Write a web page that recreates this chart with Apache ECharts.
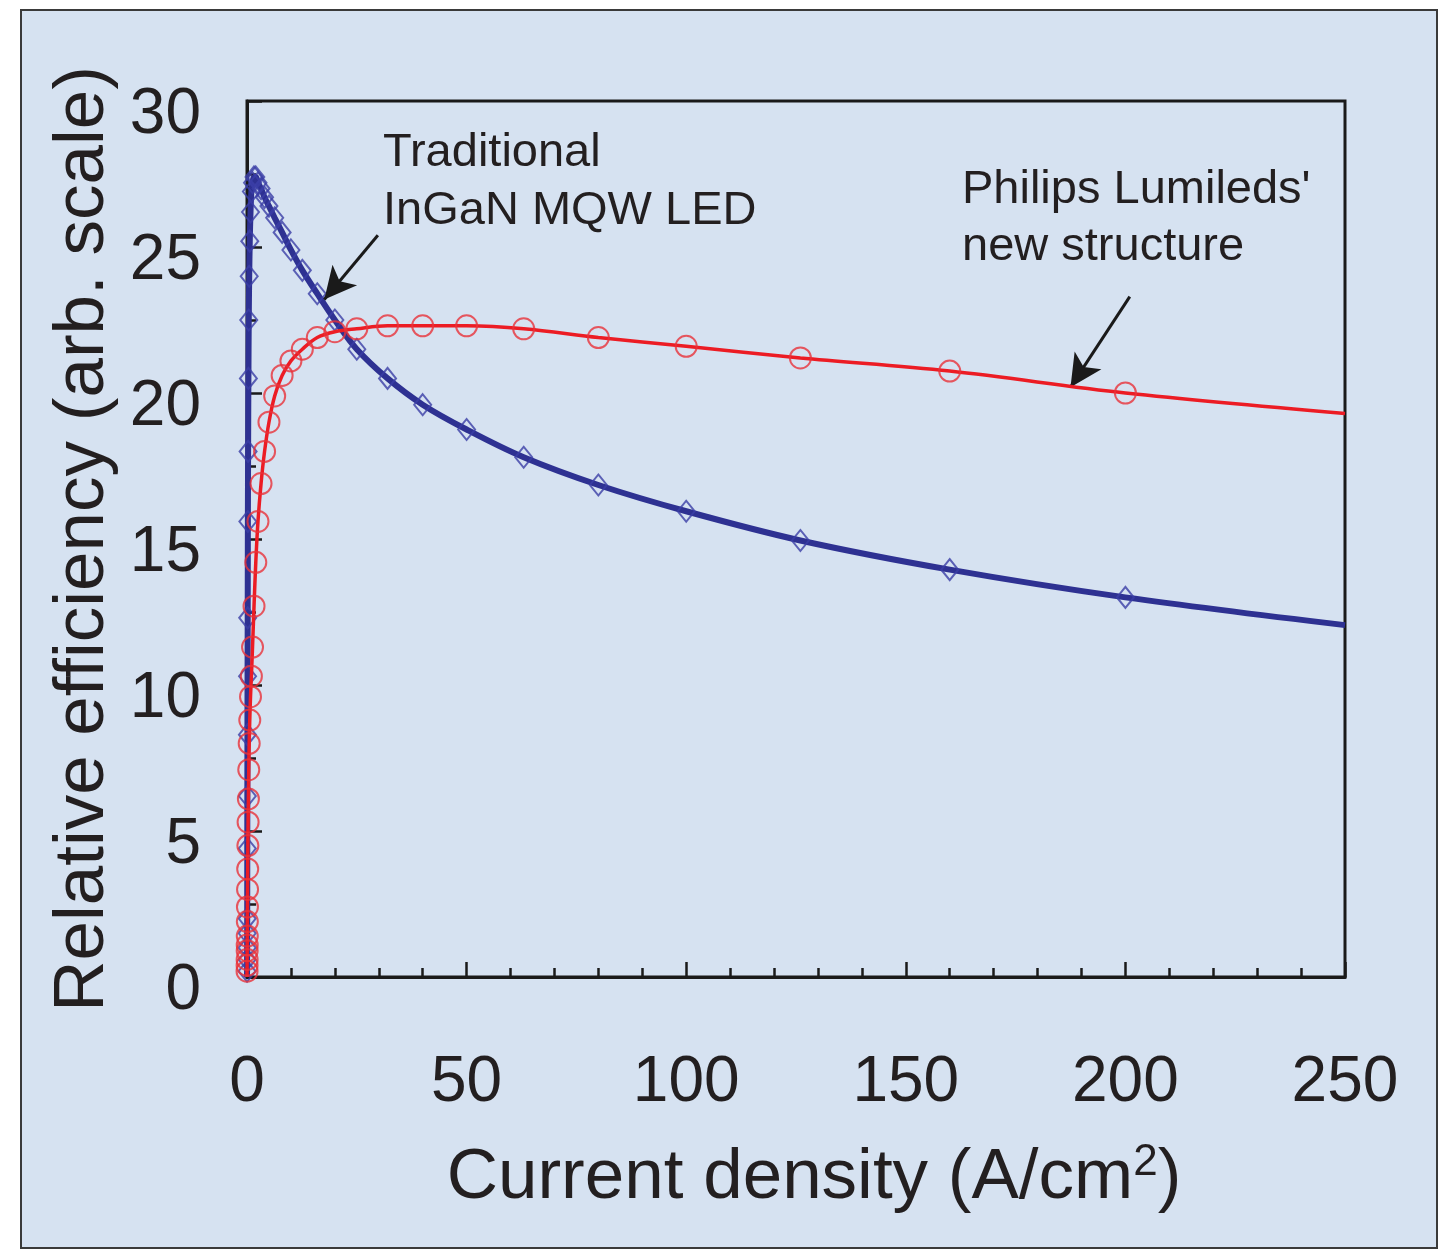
<!DOCTYPE html>
<html>
<head>
<meta charset="utf-8">
<script src="https://cdn.jsdelivr.net/npm/echarts@6/dist/echarts.min.js"></script>
<style>
html,body{margin:0;padding:0;background:#ffffff;}
#chart{width:1445px;height:1250px;}
</style>
</head>
<body>
<div id="chart"></div>
<script>
// Current density (A/cm^2) sample points, shared by both structures
const currentDensity = [0.01, 0.02, 0.03, 0.04, 0.05, 0.063, 0.08, 0.1, 0.126, 0.16, 0.2, 0.25, 0.32, 0.4, 0.5, 0.63, 0.8, 1.0, 1.26, 1.6, 2, 2.5, 3.2, 4, 5, 6.3, 8, 10, 12.6, 16, 20, 25, 32, 40, 50, 63, 80, 100, 126, 160, 200];
// Traditional InGaN MQW LED (blue diamonds)
const traditionalEff = [0.2, 0.6, 1.0, 1.5, 2.0, 4.4, 6.2, 8.3, 10.3, 12.3, 15.6, 18.0, 20.5, 22.5, 24.0, 25.2, 26.2, 26.9, 27.2, 27.4, 27.4, 27.2, 27.0, 26.7, 26.4, 26.0, 25.5, 24.9, 24.2, 23.4, 22.5, 21.5, 20.5, 19.6, 18.75, 17.8, 16.85, 15.95, 14.95, 13.95, 13.0];
// Philips Lumileds' new structure (red circles)
const lumiledsEff = [0.2, 0.4, 0.6, 0.9, 1.1, 1.4, 1.9, 2.4, 3.0, 3.7, 4.5, 5.3, 6.1, 7.1, 8.0, 8.8, 9.6, 10.3, 11.3, 12.7, 14.2, 15.6, 16.9, 18.0, 19.0, 19.9, 20.6, 21.1, 21.5, 21.9, 22.1, 22.2, 22.3, 22.3, 22.3, 22.2, 21.9, 21.6, 21.2, 20.75, 20.0];
// fitted curve end points
const fitStart = [0, 0];
const traditionalFitEnd = [250, 12.05];
const lumiledsFitEnd = [250, 19.3];
// axis ticks
const xTicks = [0, 50, 100, 150, 200, 250];
const yTicks = [0, 5, 10, 15, 20, 25, 30];
// annotations
const annTraditional = ['Traditional', 'InGaN MQW LED'];
const annLumileds = ["Philips Lumileds'", 'new structure'];
const arrowTraditional = [[29.8, 25.4], [17.6, 23.2]];
const arrowLumileds = [[201, 23.3], [187.5, 20.2]];

const FONT = '"Liberation Sans", Arial, Helvetica, sans-serif';
const TXT = '#231f20';
const BLUE = '#2e3192';
const RED = '#ec1c24';

const pts = (xs, ys) => xs.map((x, i) => [x, ys[i]]);
const bluePts = pts(currentDensity, traditionalEff);
const redPts = pts(currentDensity, lumiledsEff);

const chart = echarts.init(document.getElementById('chart'), null, {renderer: 'canvas'});
const option = {
  animation: false,
  backgroundColor: 'transparent',
  graphic: [
    {type: 'rect', z: -100, shape: {x: 21, y: 10, width: 1416, height: 1238},
     style: {fill: '#d6e2f1', stroke: '#3a3a3a', lineWidth: 2}},
    {type: 'text', z: 100, style: {x: 383, y: 153, text: annTraditional[0], font: '47px ' + FONT, fill: TXT, verticalAlign: 'middle'}},
    {type: 'text', z: 100, style: {x: 383, y: 211, text: annTraditional[1], font: '47px ' + FONT, fill: TXT, verticalAlign: 'middle'}},
    {type: 'text', z: 100, style: {x: 962, y: 190, text: annLumileds[0], font: '47px ' + FONT, fill: TXT, verticalAlign: 'middle'}},
    {type: 'text', z: 100, style: {x: 962, y: 247, text: annLumileds[1], font: '47px ' + FONT, fill: TXT, verticalAlign: 'middle'}}
  ],
  grid: {left: 247, right: 100, top: 101, bottom: 273, show: true,
         borderColor: '#1a1a1a', borderWidth: 3, backgroundColor: 'transparent'},
  xAxis: {
    type: 'value', min: xTicks[0], max: xTicks[xTicks.length - 1], interval: 50,
    name: 'Current density (A/cm{sup|2})',
    nameLocation: 'middle', nameGap: 164,
    nameTextStyle: {fontFamily: FONT, fontSize: 71, color: TXT, padding: [0, 0, 0, 36],
      rich: {sup: {fontFamily: FONT, fontSize: 44, color: TXT, verticalAlign: 'top', padding: [0, 0, 30, 0]}}},
    axisLine: {show: true, lineStyle: {color: '#1a1a1a', width: 3}},
    axisTick: {show: true, inside: true, length: 15, lineStyle: {color: '#1a1a1a', width: 2.5}},
    minorTick: {show: true, splitNumber: 5, length: 9, lineStyle: {color: '#1a1a1a', width: 2.5}},
    splitLine: {show: false},
    axisLabel: {fontFamily: FONT, fontSize: 64, color: TXT, margin: 74,
      formatter: v => xTicks.includes(v) ? String(v) : ''}
  },
  yAxis: {
    type: 'value', min: yTicks[0], max: yTicks[yTicks.length - 1], interval: 5,
    name: 'Relative efficiency (arb. scale)',
    nameLocation: 'middle', nameGap: 104,
    nameTextStyle: {fontFamily: FONT, fontSize: 71, color: TXT},
    axisLine: {show: true, lineStyle: {color: '#1a1a1a', width: 3}},
    axisTick: {show: true, inside: true, length: 15, lineStyle: {color: '#1a1a1a', width: 2.5}},
    minorTick: {show: true, splitNumber: 2, length: 9, lineStyle: {color: '#1a1a1a', width: 2.5}},
    splitLine: {show: false},
    axisLabel: {fontFamily: FONT, fontSize: 64, color: TXT, margin: 46,
      verticalAlign: 'top', lineHeight: 28,
      formatter: v => yTicks.includes(v) ? String(v) : ''}
  },
  series: [
    {
      name: 'Traditional fit', type: 'line', z: 3,
      data: [fitStart].concat(bluePts, [traditionalFitEnd]),
      smooth: 0.35, showSymbol: false, symbol: 'none',
      lineStyle: {color: BLUE, width: 6}
    },
    {
      name: 'Traditional InGaN MQW LED', type: 'scatter', z: 4,
      data: bluePts, symbol: 'diamond', symbolSize: [17, 21],
      itemStyle: {color: 'rgba(0,0,0,0)', borderColor: '#3b3fa6', borderWidth: 2}
    },
    {
      name: 'Lumileds fit', type: 'line', z: 5,
      data: [fitStart].concat(redPts, [lumiledsFitEnd]),
      smooth: 0.35, showSymbol: false, symbol: 'none',
      lineStyle: {color: RED, width: 3.5}
    },
    {
      name: "Philips Lumileds' new structure", type: 'scatter', z: 6,
      data: redPts, symbol: 'circle', symbolSize: 21,
      itemStyle: {color: 'rgba(0,0,0,0)', borderColor: '#e8323a', borderWidth: 2},
      markLine: {
        silent: true, symbol: ['none', 'arrow'], symbolSize: [24, 32], precision: 3,
        label: {show: false},
        lineStyle: {color: '#1a1a1a', width: 3, type: 'solid'},
        emphasis: {disabled: true},
        data: [
          [{coord: arrowTraditional[0]}, {coord: arrowTraditional[1]}],
          [{coord: arrowLumileds[0]}, {coord: arrowLumileds[1]}]
        ]
      }
    }
  ]
};
chart.setOption(option);
</script>
</body>
</html>
